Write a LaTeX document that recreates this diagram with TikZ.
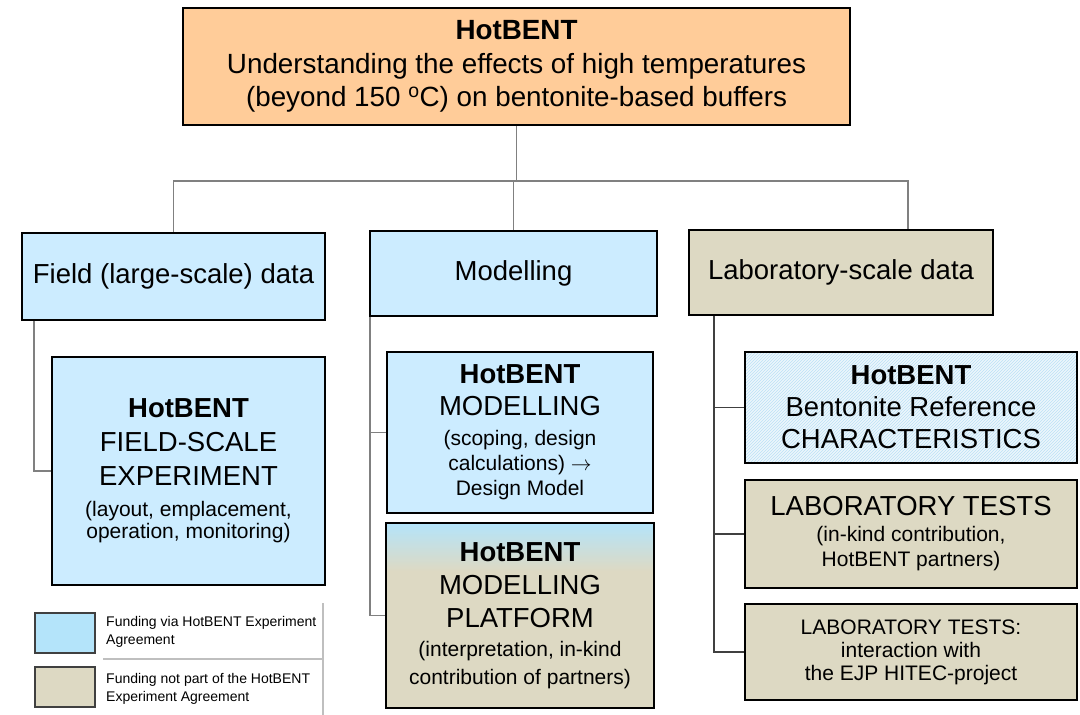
\documentclass[tikz,border=0pt]{standalone}
\usepackage{fontspec}
\setmainfont{Liberation Sans}
\usepackage{tikz}
\usetikzlibrary{positioning, calc, patterns}

\definecolor{boxblue}{RGB}{204,236,255}
\definecolor{boxtan}{RGB}{221,217,195}
\definecolor{boxorange}{RGB}{255,204,153}
\definecolor{keyblue}{RGB}{180,228,250}
\definecolor{hatchblue}{RGB}{188,225,245}
\definecolor{hatchbg}{RGB}{236,246,252}

\pgfdeclareverticalshading{platshade}{100bp}{color(0bp)=(boxtan); color(62bp)=(boxtan); color(75bp)=(keyblue); color(100bp)=(keyblue)}

\newcommand\smallline{\fontsize{21}{24}\selectfont}

\tikzset{
    box/.style={draw=black, line width=1.8pt, align=center, inner sep=0pt},
    link/.style={draw=gray, line width=1.4pt},
    keybox/.style={draw=darkgray, line width=1.4pt, minimum width=60pt, minimum height=40pt, inner sep=0pt},
    keytext/.style={anchor=west, align=left, inner sep=0pt, font=\fontsize{14}{18}\selectfont}
}

\begin{document}
\begin{tikzpicture}[x=1pt, y=-1pt]
    \useasboundingbox (0,0) rectangle (1080,715);

    % top box
    \node[box, fill=boxorange, minimum width=667pt, minimum height=117pt,
        font=\fontsize{27.8}{33.5}\selectfont] (hot) at (516.5,66.5)
        {\textbf{HotBENT}\\Understanding the effects of high temperatures\\(beyond 150 \textsuperscript{o}C) on bentonite-based buffers};

    % second row
    \node[box, fill=boxblue, minimum width=303pt, minimum height=87pt,
        font=\fontsize{27.5}{32}\selectfont] (field) at (173.5,276.5) {Field (large-scale) data};
    \node[box, fill=boxblue, minimum width=287pt, minimum height=85pt,
        font=\fontsize{27.5}{32}\selectfont] (model) at (513.5,273.5) {Modelling};
    \node[box, fill=boxtan, minimum width=304pt, minimum height=85pt,
        font=\fontsize{27.5}{32}\selectfont] (lab) at (841,272.5) {Laboratory-scale data};

    % field column
    \node[box, fill=boxblue, minimum width=273pt, minimum height=228pt,
        font=\fontsize{27.5}{34}\selectfont] (fexp) at (188.5,471)
        {\textbf{HotBENT}\\FIELD-SCALE\\EXPERIMENT\\[-3pt]{\smallline (layout, emplacement,}\\[-12pt]{\smallline operation, monitoring)}};

    % modelling column
    \node[box, fill=boxblue, minimum width=266pt, minimum height=161pt,
        font=\fontsize{27.5}{32}\selectfont] (modmod) at (520,432.5)
        {\textbf{HotBENT}\\MODELLING\\[-2pt]{\smallline (scoping, design}\\[-7pt]{\smallline calculations) $\rightarrow$}\\[-7pt]{\smallline Design Model}};
    \node[box, shade, shading=platshade, minimum width=268pt, minimum height=185pt,
        font=\fontsize{27.5}{33}\selectfont] (plat) at (520,615.5)
        {\textbf{HotBENT}\\MODELLING\\PLATFORM\\[-4pt]{\smallline (interpretation, in-kind}\\[-5pt]{\smallline contribution of partners)}};

    % laboratory column
    \node[box, preaction={fill=hatchbg}, pattern=north east lines, pattern color=hatchblue,
        minimum width=332pt, minimum height=111pt,
        font=\fontsize{27.5}{32}\selectfont] (chars) at (911,407.5)
        {\textbf{HotBENT}\\Bentonite Reference\\CHARACTERISTICS};
    \node[box, fill=boxtan, minimum width=332pt, minimum height=108pt,
        font=\fontsize{27.5}{33}\selectfont] (labt) at (911,534)
        {LABORATORY TESTS\\[-7pt]{\smallline (in-kind contribution,}\\[-8pt]{\smallline HotBENT partners)}};
    \node[box, fill=boxtan, minimum width=332pt, minimum height=96pt,
        font=\fontsize{21}{23}\selectfont] (ejp) at (911,652)
        {LABORATORY TESTS:\\interaction with\\the EJP HITEC-project};

    % connectors
    \coordinate (bus) at ($(hot.south)+(0,55)$);
    \draw[link] (hot.south) -- (bus);
    \draw[link] (field.north) |- (bus) -| ([xshift=67pt]lab.north);
    \draw[link] (bus) -| (model.north);

    \draw[link] ([xshift=13pt]field.south west) |- (fexp.west);
    \draw[link] ([xshift=1pt]model.south west) |- (modmod.west);
    \draw[link] ([xshift=1pt]model.south west) |- (plat.west);
    \draw[link, draw=darkgray] ([xshift=26pt]lab.south west) |- (chars.west);
    \draw[link, draw=darkgray] ([xshift=26pt]lab.south west) |- (labt.west);
    \draw[link, draw=darkgray] ([xshift=26pt]lab.south west) |- (ejp.west);

    % legend
    \node[keybox, fill=keyblue] (keyfund) at (65,633) {};
    \node[keytext] (keyfundtxt) at (106,632) {Funding via HotBENT Experiment\\Agreement};
    \node[keybox, fill=boxtan] (keyother) at (65,687) {};
    \node[keytext] (keyothertxt) at (106,689) {Funding not part of the HotBENT\\Experiment Agreement};
    \draw[lightgray, line width=1.5pt] (323,603) -- (323,715);
    \draw[lightgray, line width=2.5pt] (103,659) -- (323,659);
\end{tikzpicture}
\end{document}
